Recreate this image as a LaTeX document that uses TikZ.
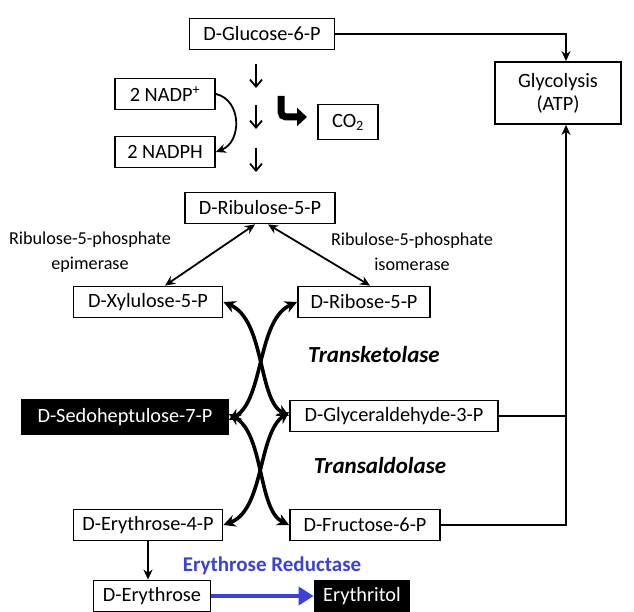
\documentclass[tikz,border=0pt]{standalone}
\usepackage{fontspec}
\setmainfont{Carlito}
\usetikzlibrary{arrows.meta}
\definecolor{reductase}{RGB}{60,66,214}

\tikzset{
  box/.style={draw, line width=1.8pt, minimum height=31pt, inner sep=2pt, font=\fontsize{20.3}{23}\selectfont},
  darkbox/.style={box, fill=black, text=white},
  enzyme/.style={align=center, font=\fontsize{18.2}{25}\selectfont},
  link/.style={line width=1.8pt},
  thinarrow/.style={link, -{Stealth[length=10pt,width=9pt]}},
  twoway/.style={link, {Stealth[length=10pt,width=9pt]}-{Stealth[length=10pt,width=9pt]}},
  swaparrow/.style={line width=3.6pt, {Stealth[length=12pt,width=12pt]}-{Stealth[length=12pt,width=12pt]}},
}

\begin{document}
\begin{tikzpicture}[x=1pt,y=-1pt]
\useasboundingbox (0,0) rectangle (634,612);
% boxes
\node[box, minimum width=145pt] (glc) at (262,34) {D-Glucose-6-P};
\node[box, minimum width=126pt, minimum height=62pt, align=center] (gly) at (558,93) {Glycolysis\\(ATP)};
\node[box, minimum width=100pt] (nadp) at (165,94) {2 NADP\textsuperscript{+}};
\node[box, minimum width=100pt] (nadph) at (165,152) {2 NADPH};
\node[box, minimum width=60pt, minimum height=35pt] (co2) at (348,122) {CO\textsubscript{2}};
\node[box, minimum width=150pt] (rbl) at (260,208) {D-Ribulose-5-P};
\node[box, minimum width=149pt] (xyl) at (148,302) {D-Xylulose-5-P};
\node[box, minimum width=132pt] (rib) at (364,302) {D-Ribose-5-P};
\node[darkbox, minimum width=206pt, minimum height=35pt] (sed) at (125,417) {D-Sedoheptulose-7-P};
\node[box, minimum width=208pt] (gap) at (394,416) {D-Glyceraldehyde-3-P};
\node[box, minimum width=149pt] (e4p) at (148,525) {D-Erythrose-4-P};
\node[box, minimum width=150pt] (f6p) at (365,525) {D-Fructose-6-P};
\node[box, minimum width=117pt] (ery) at (152,596) {D-Erythrose};
\node[darkbox, minimum width=95pt] (eol) at (362,596) {Erythritol};
\coordinate (glyin) at ([xshift=8pt]gly.south);
\coordinate (glytop) at ([xshift=8pt]gly.north);
% labels
\node[enzyme] (epi) at (90,252) {Ribulose-5-phosphate\\epimerase};
\node[enzyme] (iso) at (412,252) {Ribulose-5-phosphate\\isomerase};
\node[font=\fontsize{23}{25}\selectfont\bfseries\itshape] (tk) at (374,355) {Transketolase};
\node[font=\fontsize{23}{25}\selectfont\bfseries\itshape] (ta) at (380,466) {Transaldolase};
\node[font=\fontsize{21}{23}\selectfont\bfseries, text=reductase] (red) at (272,566) {Erythrose Reductase};
% oxidative steps
\foreach \y in {64,105,148}
  \draw[link, -{Straight Barb[length=7pt,width=12pt]}] (256,\y) -- (256,\y+24);
\draw[link, -{Stealth[length=10pt,width=9pt]}] (nadp.east) .. controls (242,100) and (242,142) .. (nadph.east);
\draw[line width=7pt, rounded corners=5pt, -{Triangle[length=10pt,width=18pt]}] (281,96) |- (307,117);
% to glycolysis
\draw[thinarrow] (glc.east) -| (glytop);
\draw[link] (gap.east) -- (gap.east -| glyin);
\draw[thinarrow] (f6p.east) -| (glyin);
% epimerase / isomerase
\draw[twoway] ([xshift=17pt]xyl.north) -- ([xshift=-5pt]rbl.south);
\draw[twoway] ([xshift=8pt]rbl.south) -- ([xshift=6pt]rib.north);
% transketolase / transaldolase
\draw[swaparrow] (xyl.east) .. controls (265,320) and (258,400) .. (gap.west);
\draw[swaparrow] (rib.west) .. controls (257,320) and (264,400) .. ([yshift=-3pt]sed.east);
\draw[swaparrow] ([yshift=3pt]sed.east) .. controls (264,434) and (258,510) .. (f6p.west);
\draw[swaparrow] ([yshift=4pt]gap.west) .. controls (258,434) and (264,510) .. (e4p.east);
% erythritol
\draw[thinarrow] (e4p.south) -- (e4p.south |- ery.north);
\draw[line width=4pt, reductase, -{Triangle[length=15pt,width=18pt]}] (ery.east) -- (eol.west);
\end{tikzpicture}
\end{document}
